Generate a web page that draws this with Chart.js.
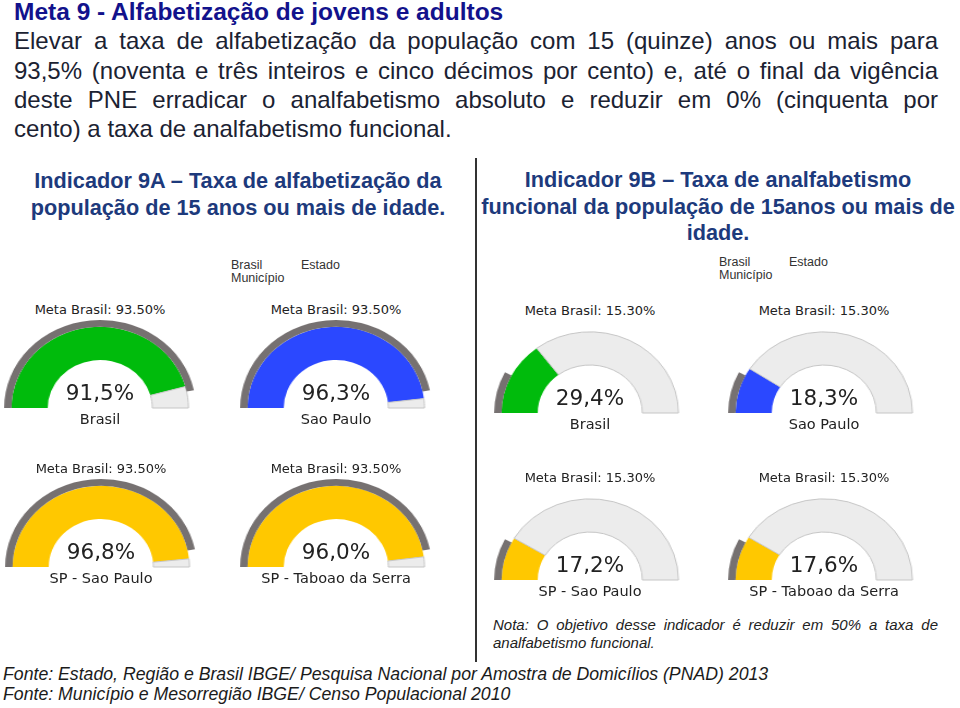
<!DOCTYPE html>
<html>
<head>
<meta charset="utf-8">
<script src="https://cdn.jsdelivr.net/npm/chart.js@4"></script>
<style>
    body { margin: 0; width: 960px; height: 708px; background: #fff; position: relative; overflow: hidden; font-family: "Liberation Sans", Arial, sans-serif; }
    .abs { position: absolute; white-space: nowrap; }
    #title { left: 14px; top: -2px; font-size: 24.5px; font-weight: bold; color: #12128c; }
    .para { position: absolute; left: 14px; width: 924px; font-size: 24px; color: #1b2232; text-align: justify; text-align-last: justify; white-space: nowrap; }
    .para.last { text-align-last: left; }
    .head { position: absolute; font-size: 21.7px; font-weight: bold; color: #1d3a7c; text-align: center; white-space: nowrap; }
    .legend { position: absolute; font-size: 12.5px; color: #333; }
    .gauge { position: absolute; width: 184px; height: 92px; transform: scaleX(1.09); }
    .gtext { position: absolute; width: 240px; text-align: center; font-family: "DejaVu Sans", sans-serif; color: #222; white-space: nowrap; }
    .meta { font-size: 13px; }
    .val { font-size: 21.5px; }
    .lbl { font-size: 14.5px; }
    .nota { position: absolute; left: 493px; width: 445px; font-size: 15px; font-style: italic; color: #222; }
    .fonte { position: absolute; left: 3px; font-size: 17.7px; font-style: italic; color: #1b1b1b; }
</style>
</head>
<body>
<div id="title" class="abs">Meta 9 - Alfabetização de jovens e adultos</div>
<div class="para" style="top:27px">Elevar a taxa de alfabetização da população com 15 (quinze) anos ou mais para</div>
<div class="para" style="top:57px">93,5% (noventa e três inteiros e cinco décimos por cento) e, até o final da vigência</div>
<div class="para" style="top:86px">deste PNE erradicar o analfabetismo absoluto e reduzir em 0% (cinquenta por</div>
<div class="para last" style="top:115px">cento) a taxa de analfabetismo funcional.</div>

<div style="position:absolute;left:475px;top:158px;width:2px;height:504px;background:#333"></div>

<div class="head" style="left:0;width:476px;top:167px;line-height:27px">Indicador 9A – Taxa de alfabetização da<br>população de 15 anos ou mais de idade.</div>
<div class="head" style="left:478px;width:480px;top:167px;line-height:26.5px">Indicador 9B – Taxa de analfabetismo<br>funcional da população de 15anos ou mais de<br>idade.</div>

<div class="legend" style="left:231px;top:258px">Brasil</div>
<div class="legend" style="left:231px;top:271px">Município</div>
<div class="legend" style="left:301px;top:258px">Estado</div>
<div class="legend" style="left:719px;top:255px">Brasil</div>
<div class="legend" style="left:719px;top:268px">Município</div>
<div class="legend" style="left:789px;top:255px">Estado</div>

<div id="gauges"></div>

<div class="nota" style="top:616px;text-align:justify;text-align-last:justify;white-space:nowrap">Nota: O objetivo desse indicador é reduzir em 50% a taxa de</div>
<div class="nota" style="top:634px">analfabetismo funcional.</div>

<div class="fonte" style="top:664px">Fonte: Estado, Região e Brasil IBGE/ Pesquisa Nacional por Amostra de Domicílios (PNAD) 2013</div>
<div class="fonte" style="top:684px">Fonte: Município e Mesorregião IBGE/ Censo Populacional 2010</div>

<script>
// dados
const gaugeNames = ['Brasil', 'Sao Paulo', 'SP - Sao Paulo', 'SP - Taboao da Serra'];
const valuesA = [91.5, 96.3, 96.8, 96.0];
const valuesB = [29.4, 18.3, 17.2, 17.6];
const metaA = 93.5;
const metaB = 15.3;
const gaugeColors = ['#00bb0c', '#2b48ff', '#ffc800', '#ffc800'];

// posições (centro x, base y)
const posA = [[100, 408], [336, 408], [101, 567], [336, 567]];
const posB = [[590, 413], [824, 413], [590, 580], [824, 580]];

let charts = [];

function fmt(v) {
    return v.toFixed(1).replace('.', ',') + '%';
}

function addText(cls, cx, y, text) {
    const el = document.createElement('div');
    el.className = 'gtext ' + cls;
    el.style.left = (cx - 120) + 'px';
    el.style.top = y + 'px';
    el.textContent = text;
    document.getElementById('gauges').appendChild(el);
}

function renderGauge(cx, by, value, meta, color, name, metaOffset) {
    const wrap = document.createElement('div');
    wrap.className = 'gauge';
    wrap.style.left = (cx - 92) + 'px';
    wrap.style.top = (by - 90) + 'px';
    const canvas = document.createElement('canvas');
    canvas.width = 184;
    canvas.height = 92;
    wrap.appendChild(canvas);
    document.getElementById('gauges').appendChild(wrap);

    charts.push(new Chart(canvas, {
        type: 'doughnut',
        data: {
            labels: ['valor', 'resto'],
            datasets: [{
                data: [meta, 100 - meta],
                backgroundColor: ['#767171', 'rgba(0,0,0,0)'],
                borderWidth: 0,
                weight: 7
            }, {
                data: [value, 100 - value],
                backgroundColor: [color, '#ececec'],
                borderColor: [color, '#c6c6c6'],
                borderWidth: [0, 1],
                weight: 34
            }]
        },
        options: {
            responsive: false,
            animation: false,
            rotation: -90,
            circumference: 180,
            radius: 88,
            cutout: '54.5%',
            plugins: {
                legend: { display: false },
                tooltip: { enabled: false }
            },
            events: []
        }
    }));

    addText('meta', cx, by - metaOffset, 'Meta Brasil: ' + meta.toFixed(2) + '%');
    addText('val', cx, by - 28, fmt(value));
    addText('lbl', cx, by + 3, name);
}

valuesA.forEach((v, i) => {
    renderGauge(posA[i][0], posA[i][1], v, metaA, gaugeColors[i], gaugeNames[i], 106);
});
valuesB.forEach((v, i) => {
    renderGauge(posB[i][0], posB[i][1], v, metaB, gaugeColors[i], gaugeNames[i], 110);
});
</script>
</body>
</html>
